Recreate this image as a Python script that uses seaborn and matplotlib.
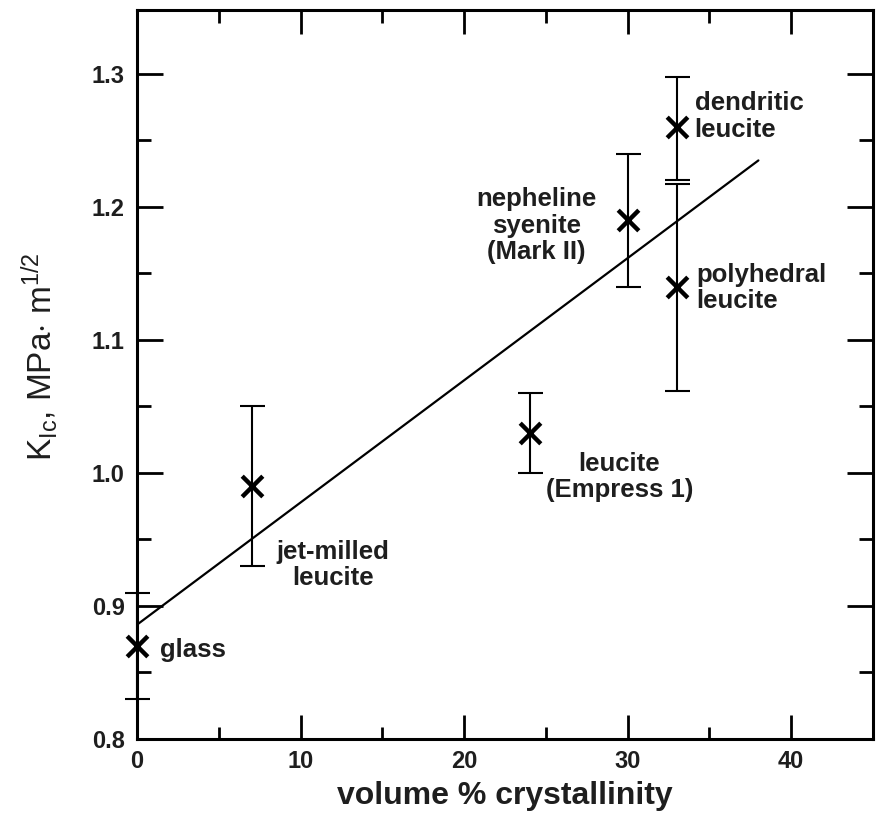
import numpy as np
import pandas as pd
import matplotlib
matplotlib.use('Agg')
import matplotlib.pyplot as plt
import seaborn as sns
from matplotlib.ticker import MultipleLocator

# data
materials = ['glass', 'jet-milled\nleucite', 'leucite\n(Empress 1)',
             'nepheline\nsyenite\n(Mark II)', 'dendritic\nleucite', 'polyhedral\nleucite']
crystallinity = [0, 7, 24, 30, 33, 33]
k_ic = [0.87, 0.99, 1.03, 1.19, 1.26, 1.14]
err_low = [0.83, 0.93, 1.00, 1.14, 1.220, 1.062]
err_high = [0.91, 1.05, 1.06, 1.24, 1.298, 1.217]

fit_x = [0, 38]
fit_y = [0.886, 1.235]

df = pd.DataFrame({'material': materials, 'x': crystallinity, 'k': k_ic,
                   'lo': err_low, 'hi': err_high})

sns.set_style('ticks')
plt.rcParams['font.family'] = ['Liberation Sans', 'DejaVu Sans']
plt.rcParams['mathtext.fontset'] = 'custom'
plt.rcParams['mathtext.rm'] = 'Liberation Sans'
plt.rcParams['mathtext.it'] = 'Liberation Sans'

fig = plt.figure(figsize=(8.79, 8.18), dpi=100)
ax = fig.add_axes([0.156, 0.0966, 0.837, 0.891])

# error bars
yerr = np.array([df['k'] - df['lo'], df['hi'] - df['k']])
ax.errorbar(df['x'], df['k'], yerr=yerr, fmt='none', ecolor='black',
            elinewidth=1.5, capsize=9, capthick=1.5, clip_on=False, zorder=2)

# regression line
sns.lineplot(x=fit_x, y=fit_y, ax=ax, color='black', linewidth=1.6, zorder=3)

# data points
sns.scatterplot(data=df, x='x', y='k', ax=ax, marker='x', s=220,
                color='black', linewidth=3.2, clip_on=False, zorder=4)

# labels
txt = dict(fontsize=18.5, fontweight='bold', color='#1e1e1e', linespacing=1.12)
ax.text(1.4, 0.867, 'glass', ha='left', va='center', **txt)
ax.text(12.0, 0.931, 'jet-milled\nleucite', ha='center', va='center', **txt)
ax.text(29.5, 0.997, 'leucite\n(Empress 1)', ha='center', va='center', **txt)
ax.text(24.4, 1.186, 'nepheline\nsyenite\n(Mark II)', ha='center', va='center', **txt)
ax.text(34.1, 1.268, 'dendritic\nleucite', ha='left', va='center', **txt)
ax.text(34.2, 1.139, 'polyhedral\nleucite', ha='left', va='center', **txt)

ax.set_xlim(0, 45)
ax.set_ylim(0.8, 1.348)
ax.xaxis.set_major_locator(MultipleLocator(10))
ax.xaxis.set_minor_locator(MultipleLocator(5))
ax.yaxis.set_major_locator(MultipleLocator(0.1))
ax.yaxis.set_minor_locator(MultipleLocator(0.05))
ax.yaxis.set_major_formatter(matplotlib.ticker.FormatStrFormatter('%.1f'))

ax.tick_params(axis='both', which='both', direction='in', top=True, right=True,
               width=2, colors='black', labelcolor='#1e1e1e')
ax.tick_params(axis='x', which='major', length=17, pad=8, labelsize=17)
ax.tick_params(axis='x', which='minor', length=9)
ax.tick_params(axis='y', which='major', length=19, pad=9, labelsize=17)
ax.tick_params(axis='y', which='minor', length=10)
for lab in ax.get_xticklabels() + ax.get_yticklabels():
    lab.set_fontweight('bold')

for sp in ax.spines.values():
    sp.set_linewidth(2.2)
    sp.set_color('black')

ax.set_xlabel('volume % crystallinity', fontsize=23, fontweight='bold',
              color='#1e1e1e', labelpad=6)
ax.set_ylabel(r'K$_{\mathrm{Ic}}$, MPa$\cdot$ m$^{\mathrm{1/2}}$', fontsize=24,
              color='#1e1e1e')
ax.yaxis.set_label_coords(-0.103, 0.524)

fig.savefig('out.png', dpi=100)
